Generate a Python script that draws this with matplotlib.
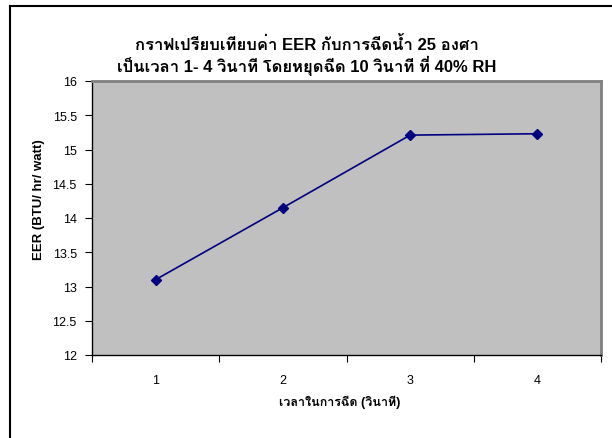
import numpy as np
import matplotlib
matplotlib.use("Agg")
import matplotlib.pyplot as plt
from matplotlib import font_manager
from matplotlib.lines import Line2D

# data
times = [1, 2, 3, 4]
eer = [13.10, 14.15, 15.21, 15.23]
yticks = [12, 12.5, 13, 13.5, 14, 14.5, 15, 15.5, 16]
ytick_labels = ["12", "12.5", "13", "13.5", "14", "14.5", "15", "15.5", "16"]

title = "กราฟเปรียบเทียบค่า EER กับการฉีดน้ำ 25 องศา\nเป็นเวลา 1- 4 วินาที โดยหยุดฉีด 10 วินาที ที่ 40% RH"
xlabel = "เวลาในการฉีด (วินาที)"
ylabel = "EER (BTU/ hr/ watt)"

# look for any installed font with Thai glyphs
thai = []
for f in font_manager.fontManager.ttflist:
    n = f.name
    if ("Thai" in n or "Tlwg" in n or n in ("Garuda", "Loma", "Kinnari", "Norasi", "Sawasdee", "Umpush", "Waree", "Purisa")) and n not in thai:
        thai.append(n)
families = ["Liberation Sans"] + thai + ["DejaVu Sans", "Noto Sans"]
plt.rcParams["font.family"] = families

fig = plt.figure(figsize=(6.12, 4.39), dpi=100)
ax = fig.add_axes([92 / 612, 1 - 356 / 439, 509 / 612, 274 / 439])
ax.set_facecolor("#c0c0c0")

ax.plot(times, eer, color="#000080", marker="D", markersize=5, linewidth=1.2)

ax.set_xlim(0.5, 4.5)
ax.set_ylim(12, 16)
ax.set_yticks(yticks)
ax.set_yticklabels(ytick_labels, fontsize=9)
ax.set_xticks([0.5, 1.5, 2.5, 3.5, 4.5])
ax.set_xticklabels([])
ax.set_xticks(times, minor=True)
ax.set_xticklabels([str(t) for t in times], minor=True, fontsize=9)
ax.tick_params(axis="x", which="minor", length=0, pad=14)
ax.tick_params(axis="x", which="major", length=5, direction="out", color="black")
ax.tick_params(axis="y", length=5, direction="out", color="black", pad=6)

for s in ["top", "right"]:
    ax.spines[s].set_color("#808080")
    ax.spines[s].set_linewidth(2)
for s in ["left", "bottom"]:
    ax.spines[s].set_color("black")
    ax.spines[s].set_linewidth(1)

fig.text(307 / 612, 1 - 56 / 439, title, ha="center", va="center",
         fontsize=12, fontweight="bold", linespacing=1.15)
fig.text(340 / 612, 1 - 402 / 439, xlabel, ha="center", va="center",
         fontsize=9, fontweight="bold")
fig.text(39 / 612, 1 - 200 / 439, ylabel, ha="center", va="center",
         fontsize=9.5, fontweight="bold", rotation=90)

# chart frame (cropped at right and bottom)
fig.add_artist(Line2D([9.5 / 612, 9.5 / 612], [0, 1 - 7 / 439], color="black", linewidth=1.5))
fig.add_artist(Line2D([9.5 / 612, 1], [1 - 7 / 439, 1 - 7 / 439], color="black", linewidth=1.5))

fig.savefig("out.png", dpi=100)
